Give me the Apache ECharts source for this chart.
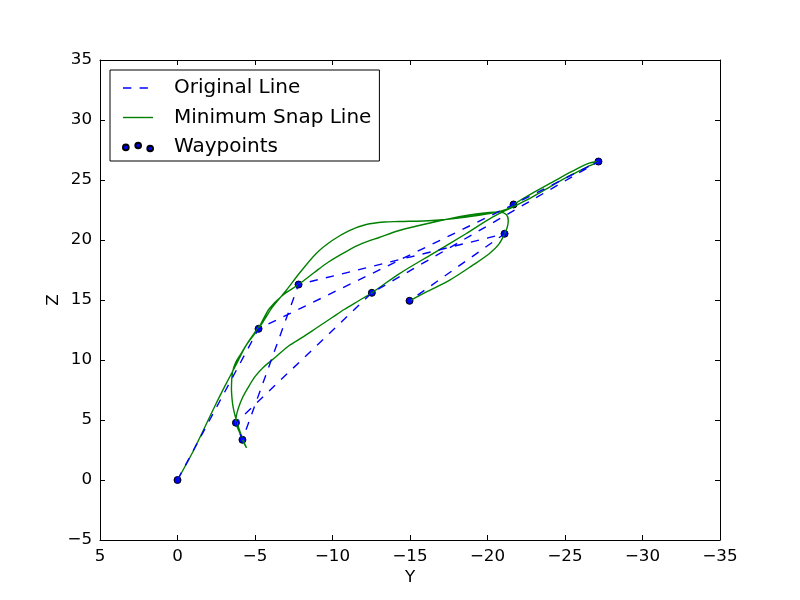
<!DOCTYPE html>
<html>
<head>
<meta charset="utf-8">
<script src="https://cdn.jsdelivr.net/npm/echarts@6/dist/echarts.min.js"></script>
<style>
  html, body { margin: 0; padding: 0; background: #fff; }
  #chart { width: 800px; height: 600px; }
</style>
</head>
<body>
<div id="chart"></div>
<script>
// waypoints, in the order the original line visits them
const waypointY = [0, -5.23, -21.68, -27.16, -12.54, -3.77, -4.19, -7.81, -21.10, -14.97]
const waypointZ = [0, 12.60, 22.96, 26.54, 15.60, 4.77, 3.35, 16.29, 20.52, 14.93]

// minimum snap trajectory ([Y, Z])
const legAD = [[0, 0], [-0.97, 2.29], [-1.72, 4.29], [-2.43, 6.21], [-3.08, 7.88], [-3.72, 9.46], [-4.43, 11.21], [-5.23, 12.60]]
const legDI = [[-5.66, 13.46], [-6.11, 14.38], [-7.01, 15.79], [-7.85, 17.21], [-8.95, 18.88], [-9.98, 19.96], [-11.08, 20.79], [-12.18, 21.29], [-13.34, 21.50], [-14.30, 21.54], [-16.43, 21.63], [-18.63, 21.92], [-20.30, 22.25], [-21.21, 22.54], [-21.68, 22.96]]
const legIJ = [[-22.90, 23.90], [-24.19, 24.82], [-25.48, 25.73], [-26.56, 26.40], [-27.16, 26.54]]
const legJF = [[-26.56, 26.17], [-25.46, 25.46], [-24.17, 24.54], [-22.88, 23.58], [-21.68, 22.79], [-20.32, 21.90], [-18.61, 20.52], [-16.45, 18.85], [-14.30, 17.18], [-12.54, 15.60]]
const legFC = [[-11.72, 14.96], [-10.75, 14.21], [-9.98, 13.54], [-9.01, 12.71], [-8.05, 11.88], [-7.21, 11.21], [-6.37, 10.29], [-5.53, 9.38], [-5.01, 8.63], [-4.56, 7.71], [-4.17, 6.79], [-3.92, 5.96], [-3.79, 5.29], [-3.77, 4.77]]
const legCB = [[-3.98, 4.04], [-4.19, 3.35], [-4.37, 2.88], [-4.45, 2.68]]
const legBE = [[-4.30, 3.13], [-4.05, 3.96], [-3.82, 4.88], [-3.66, 5.63], [-3.55, 6.38], [-3.48, 7.71], [-3.55, 8.98], [-3.75, 9.79], [-4.09, 10.52], [-4.63, 11.63], [-5.08, 12.46], [-5.38, 13.02], [-5.92, 14.27], [-6.77, 15.38], [-7.81, 16.29]]
const legEH = [[-8.82, 17.29], [-9.79, 18.21], [-10.88, 19.04], [-11.92, 19.71], [-13.01, 20.21], [-14.30, 20.79], [-16.43, 21.46], [-18.63, 22.04], [-20.11, 22.29], [-20.75, 22.33], [-21.21, 22.13], [-21.34, 21.63], [-21.27, 21.04], [-21.10, 20.52]]
const legHG = [[-20.75, 19.68], [-20.11, 18.85], [-19.03, 17.88], [-17.53, 16.63], [-16.03, 15.65], [-14.97, 14.93]]

const seriesNames = ['Original Line', 'Minimum Snap Line', 'Waypoints']

const font = 'DejaVu Sans'
const minus = (v) => String(v).replace('-', '\u2212')

const waypoints = waypointY.map((y, i) => [y, waypointZ[i]])
const snapLine = [].concat(legAD, legDI, legIJ, legJF, legFC, legCB, legBE, legEH, legHG)

// three little dots for the scatter legend entry
const dotsIcon = 'path://M0,5.6a3.3,3.3 0 1,0 6.6,0a3.3,3.3 0 1,0 -6.6,0Z' +
  'M14.4,3.3a3.3,3.3 0 1,0 6.6,0a3.3,3.3 0 1,0 -6.6,0Z' +
  'M28.4,6.9a3.3,3.3 0 1,0 6.6,0a3.3,3.3 0 1,0 -6.6,0Z'

const noSymbol = { color: 'rgba(0,0,0,0)', borderColor: 'rgba(0,0,0,0)', borderWidth: 0 }

const axisCommon = (show) => ({
  nameMoveOverlap: false,
  axisLine: { show: true, onZero: false, lineStyle: { color: '#000', width: 1 } },
  axisTick: { show: true, inside: true, length: 5, lineStyle: { color: '#000' } },
  splitLine: { show: false },
  axisLabel: {
    show: show, color: '#000', fontFamily: font, fontSize: 16.7, margin: 8,
    formatter: minus
  }
})

const chart = echarts.init(document.getElementById('chart'))
chart.setOption({
  animation: false,
  backgroundColor: '#fff',
  grid: { left: 100, right: 80, top: 60, bottom: 60 },
  legend: {
    orient: 'vertical',
    left: 110, top: 70,
    padding: [8, 8, 4, 12],
    itemWidth: 30, itemHeight: 14, itemGap: 9.5,
    borderColor: '#000', borderWidth: 1, borderRadius: 0,
    backgroundColor: '#fff',
    textStyle: { fontFamily: font, fontSize: 20, color: '#000', lineHeight: 14, padding: [0, 0, 0, 16] },
    data: [
      { name: seriesNames[0], itemStyle: noSymbol, lineStyle: { type: [8.3, 8.3], width: 1.4, color: '#0000ff' } },
      { name: seriesNames[1], itemStyle: noSymbol, lineStyle: { width: 1.4, color: '#008000' } },
      { name: seriesNames[2], icon: dotsIcon }
    ]
  },
  xAxis: [
    Object.assign(axisCommon(true), {
      type: 'value', min: -35, max: 5, interval: 5, inverse: true, position: 'bottom',
      name: 'Y', nameLocation: 'middle', nameGap: 29.5,
      nameTextStyle: { fontFamily: font, fontSize: 16.7, color: '#000' }
    }),
    Object.assign(axisCommon(false), {
      type: 'value', min: -35, max: 5, interval: 5, inverse: true, position: 'top'
    })
  ],
  yAxis: [
    Object.assign(axisCommon(true), {
      type: 'value', min: -5, max: 35, interval: 5, position: 'left',
      name: 'Z', nameLocation: 'middle', nameGap: 38, nameRotate: 90,
      nameTextStyle: { fontFamily: font, fontSize: 16.7, color: '#000' }
    }),
    Object.assign(axisCommon(false), {
      type: 'value', min: -5, max: 35, interval: 5, position: 'right'
    })
  ],
  series: [
    {
      name: seriesNames[0],
      type: 'line',
      data: waypoints,
      symbol: 'none',
      z: 3,
      lineStyle: { color: '#0000ff', width: 1.4, type: [8.3, 8.3] },
      itemStyle: { color: '#0000ff' }
    },
    {
      name: seriesNames[1],
      type: 'line',
      data: snapLine,
      symbol: 'none',
      smooth: 0.3,
      z: 2,
      lineStyle: { color: '#008000', width: 1.4 },
      itemStyle: { color: '#008000' }
    },
    {
      name: seriesNames[2],
      type: 'scatter',
      data: waypoints,
      symbolSize: 7,
      z: 1,
      itemStyle: { color: '#0000ff', borderColor: '#000', borderWidth: 1, opacity: 1 }
    }
  ]
})
</script>
</body>
</html>
